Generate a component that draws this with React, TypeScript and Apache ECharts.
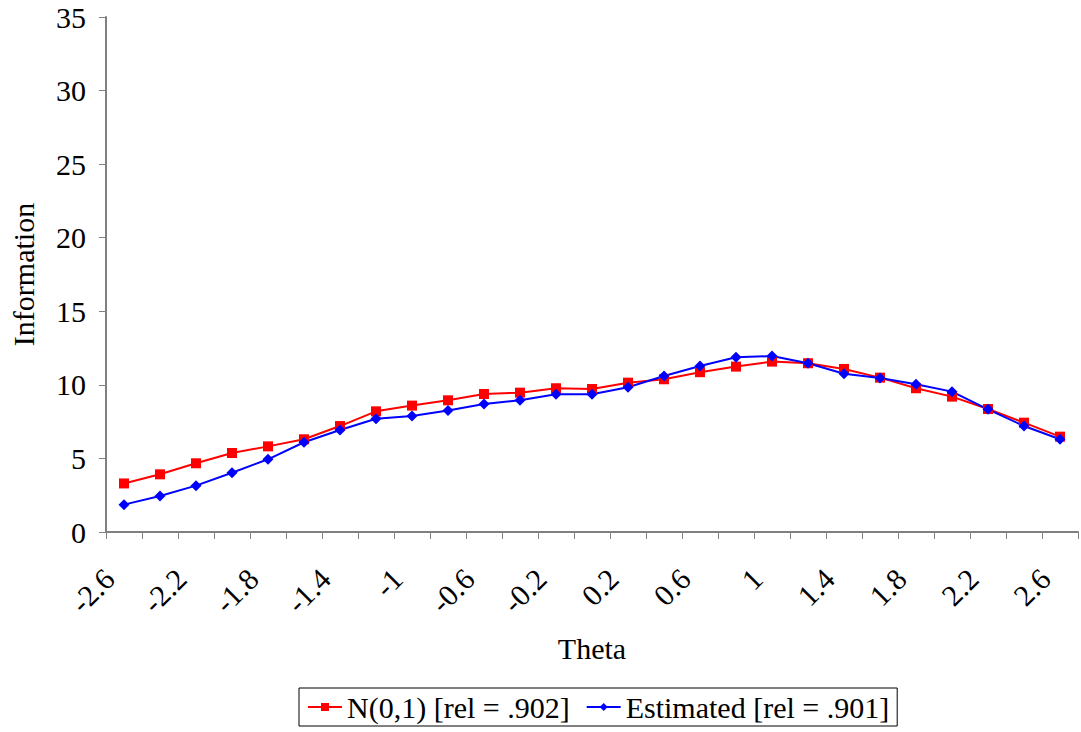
import React, { useEffect, useRef } from "react";
import * as echarts from "echarts";

const thetaLabels = [
  "-2.6", "-2.4", "-2.2", "-2", "-1.8", "-1.6", "-1.4", "-1.2", "-1", "-0.8",
  "-0.6", "-0.4", "-0.2", "0", "0.2", "0.4", "0.6", "0.8", "1", "1.2",
  "1.4", "1.6", "1.8", "2", "2.2", "2.4", "2.6",
];

const normalInfo = [
  3.3, 3.92, 4.67, 5.37, 5.82, 6.3, 7.2, 8.2, 8.59, 8.95,
  9.38, 9.47, 9.77, 9.72, 10.15, 10.38, 10.86, 11.24, 11.58, 11.47,
  11.08, 10.49, 9.77, 9.2, 8.36, 7.43, 6.48,
];

const estimatedInfo = [
  1.86, 2.45, 3.15, 4.03, 4.94, 6.1, 6.93, 7.7, 7.89, 8.25,
  8.7, 8.95, 9.36, 9.36, 9.84, 10.6, 11.28, 11.87, 11.96, 11.47,
  10.76, 10.47, 10.04, 9.54, 8.34, 7.2, 6.3,
];

const seriesNames = ["N(0,1) [rel = .902]", "Estimated [rel = .901]"];

const FONT = "'Liberation Serif', 'Times New Roman', serif";

export default function App() {
  const ref = useRef<HTMLDivElement>(null);
  useEffect(() => {
    if (!ref.current) return;
    const chart = echarts.init(ref.current, null, { renderer: "svg" });
    chart.setOption({
      animation: false,
      backgroundColor: "#fff",
      textStyle: { fontFamily: FONT, color: "#000" },
      grid: { left: 104, right: 3, top: 17, bottom: 200, containLabel: false },
      legend: {
        top: 688,
        left: 299,
        borderColor: "#000",
        borderWidth: 1,
        padding: [4, 8, 4, 8],
        itemGap: 16,
        itemWidth: 34,
        itemHeight: 10,
        textStyle: { fontFamily: FONT, fontSize: 30, color: "#000" },
        data: seriesNames,
      },
      xAxis: {
        type: "category",
        data: thetaLabels,
        boundaryGap: true,
        name: "Theta",
        nameLocation: "middle",
        nameGap: 101,
        nameTextStyle: { fontFamily: FONT, fontSize: 30, color: "#000" },
        axisLine: { lineStyle: { color: "#808080", width: 2 } },
        axisTick: { show: true, interval: 0, length: 7, lineStyle: { color: "#808080", width: 1 } },
        axisLabel: {
          interval: 1,
          rotate: 45,
          margin: 27,
          padding: [0, 21, 0, 0],
          fontFamily: FONT,
          fontSize: 30,
          color: "#000",
        },
        splitLine: { show: false },
      },
      yAxis: {
        type: "value",
        min: 0,
        max: 35,
        interval: 5,
        name: "Information",
        nameLocation: "middle",
        nameGap: 68,
        nameTextStyle: { fontFamily: FONT, fontSize: 30, color: "#000" },
        axisLine: { show: true, lineStyle: { color: "#808080", width: 2 } },
        axisTick: { show: true, length: 7, lineStyle: { color: "#808080", width: 1 } },
        axisLabel: { margin: 20, fontFamily: FONT, fontSize: 30, color: "#000" },
        splitLine: { show: false },
      },
      series: [
        {
          name: seriesNames[0],
          type: "line",
          data: normalInfo,
          symbol: "rect",
          symbolSize: 10,
          itemStyle: { color: "#FF0000" },
          lineStyle: { color: "#FF0000", width: 2 },
        },
        {
          name: seriesNames[1],
          type: "line",
          data: estimatedInfo,
          symbol: "diamond",
          symbolSize: 11,
          itemStyle: { color: "#0000FF" },
          lineStyle: { color: "#0000FF", width: 2 },
        },
      ],
    });
    return () => chart.dispose();
  }, []);
  return (
    <div
      ref={ref}
      style={{ position: "fixed", left: 0, top: 0, width: 1081, height: 732 }}
    />
  );
}
